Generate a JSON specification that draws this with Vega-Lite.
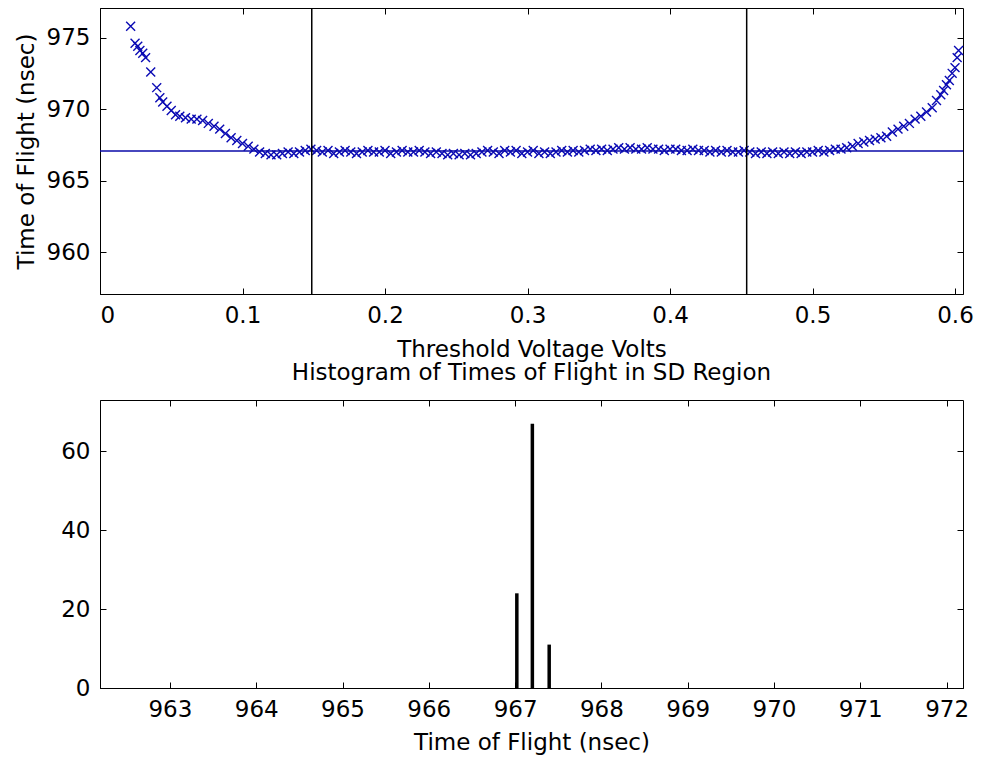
{
  "$schema": "https://vega.github.io/schema/vega-lite/v6.json",
  "padding": {"left": 14, "top": 6, "right": 10, "bottom": 5},
  "background": "white",
  "bounds": "flush",
  "spacing": 106,
  "config": {
    "view": {"stroke": "black", "strokeWidth": 1},
    "font": "DejaVu Sans",
    "axis": {
      "grid": false,
      "domainColor": "black",
      "tickColor": "black",
      "tickSize": -6,
      "labelPadding": 16,
      "labelColor": "black",
      "labelFont": "DejaVu Sans",
      "labelFontSize": 23,
      "titleFont": "DejaVu Sans",
      "titleFontSize": 23,
      "titleFontWeight": "normal",
      "titleColor": "black"
    },
    "title": {"font": "DejaVu Sans", "fontSize": 23, "fontWeight": "normal", "color": "black"}
  },
  "datasets": {
    "tof": [
      {"v": 0.0215, "t": 975.8}, {"v": 0.0246, "t": 974.6}, {"v": 0.0265, "t": 974.4}, {"v": 0.028, "t": 974.1},
      {"v": 0.030, "t": 973.9}, {"v": 0.032, "t": 973.6}, {"v": 0.0356, "t": 972.6}, {"v": 0.0398, "t": 971.5},
      {"v": 0.042, "t": 970.8}, {"v": 0.044, "t": 970.5}, {"v": 0.047, "t": 970.2}, {"v": 0.050, "t": 969.9},
      {"v": 0.053, "t": 969.6}, {"v": 0.056, "t": 969.5}, {"v": 0.060, "t": 969.4}, {"v": 0.064, "t": 969.3},
      {"v": 0.068, "t": 969.3}, {"v": 0.072, "t": 969.2}, {"v": 0.076, "t": 969.0}, {"v": 0.080, "t": 968.8},
      {"v": 0.084, "t": 968.6}, {"v": 0.088, "t": 968.3}, {"v": 0.092, "t": 968.0}, {"v": 0.096, "t": 967.8},
      {"v": 0.100, "t": 967.6}, {"v": 0.104, "t": 967.4}, {"v": 0.108, "t": 967.2}, {"v": 0.112, "t": 967.0},
      {"v": 0.116, "t": 966.9}, {"v": 0.120, "t": 966.8}, {"v": 0.124, "t": 966.8}, {"v": 0.128, "t": 966.9},
      {"v": 0.132, "t": 967.0}, {"v": 0.136, "t": 966.9}, {"v": 0.140, "t": 967.0}, {"v": 0.144, "t": 967.1},
      {"v": 0.148, "t": 967.2}, {"v": 0.152, "t": 967.1}, {"v": 0.156, "t": 967.0}, {"v": 0.160, "t": 967.1},
      {"v": 0.164, "t": 966.9}, {"v": 0.168, "t": 967.0}, {"v": 0.172, "t": 967.1}, {"v": 0.176, "t": 967.0},
      {"v": 0.180, "t": 966.9}, {"v": 0.184, "t": 967.0}, {"v": 0.188, "t": 967.1}, {"v": 0.192, "t": 967.0},
      {"v": 0.196, "t": 967.0}, {"v": 0.200, "t": 967.1}, {"v": 0.204, "t": 966.9}, {"v": 0.208, "t": 967.0},
      {"v": 0.212, "t": 967.1}, {"v": 0.216, "t": 967.0}, {"v": 0.220, "t": 967.0}, {"v": 0.224, "t": 967.1},
      {"v": 0.228, "t": 967.0}, {"v": 0.232, "t": 966.9}, {"v": 0.236, "t": 967.0}, {"v": 0.240, "t": 966.9},
      {"v": 0.244, "t": 966.8}, {"v": 0.248, "t": 966.9}, {"v": 0.252, "t": 966.8}, {"v": 0.256, "t": 966.9},
      {"v": 0.260, "t": 966.8}, {"v": 0.264, "t": 966.9}, {"v": 0.268, "t": 967.0}, {"v": 0.272, "t": 967.1},
      {"v": 0.276, "t": 967.0}, {"v": 0.280, "t": 966.9}, {"v": 0.284, "t": 967.1}, {"v": 0.288, "t": 967.0},
      {"v": 0.292, "t": 967.1}, {"v": 0.296, "t": 966.9}, {"v": 0.300, "t": 967.0}, {"v": 0.304, "t": 967.1},
      {"v": 0.308, "t": 966.9}, {"v": 0.312, "t": 967.0}, {"v": 0.316, "t": 966.9}, {"v": 0.320, "t": 967.0},
      {"v": 0.324, "t": 967.1}, {"v": 0.328, "t": 967.0}, {"v": 0.332, "t": 967.1}, {"v": 0.336, "t": 967.0},
      {"v": 0.340, "t": 967.1}, {"v": 0.344, "t": 967.2}, {"v": 0.348, "t": 967.1}, {"v": 0.352, "t": 967.2},
      {"v": 0.356, "t": 967.1}, {"v": 0.360, "t": 967.2}, {"v": 0.364, "t": 967.3}, {"v": 0.368, "t": 967.2},
      {"v": 0.372, "t": 967.3}, {"v": 0.376, "t": 967.2}, {"v": 0.380, "t": 967.2}, {"v": 0.384, "t": 967.3},
      {"v": 0.388, "t": 967.2}, {"v": 0.392, "t": 967.2}, {"v": 0.396, "t": 967.1}, {"v": 0.400, "t": 967.2},
      {"v": 0.404, "t": 967.2}, {"v": 0.408, "t": 967.1}, {"v": 0.412, "t": 967.1}, {"v": 0.416, "t": 967.2},
      {"v": 0.420, "t": 967.1}, {"v": 0.424, "t": 967.1}, {"v": 0.428, "t": 967.0}, {"v": 0.432, "t": 967.1},
      {"v": 0.436, "t": 967.0}, {"v": 0.440, "t": 967.1}, {"v": 0.444, "t": 967.0}, {"v": 0.448, "t": 967.0},
      {"v": 0.452, "t": 967.1}, {"v": 0.456, "t": 967.0}, {"v": 0.460, "t": 966.9}, {"v": 0.464, "t": 967.0},
      {"v": 0.468, "t": 966.9}, {"v": 0.472, "t": 967.0}, {"v": 0.476, "t": 966.9}, {"v": 0.480, "t": 967.0},
      {"v": 0.484, "t": 966.9}, {"v": 0.488, "t": 967.0}, {"v": 0.492, "t": 966.9}, {"v": 0.496, "t": 967.0},
      {"v": 0.500, "t": 967.0}, {"v": 0.504, "t": 967.1}, {"v": 0.508, "t": 967.0}, {"v": 0.512, "t": 967.1},
      {"v": 0.516, "t": 967.2}, {"v": 0.520, "t": 967.2}, {"v": 0.524, "t": 967.3}, {"v": 0.528, "t": 967.4},
      {"v": 0.532, "t": 967.6}, {"v": 0.536, "t": 967.7}, {"v": 0.540, "t": 967.8}, {"v": 0.544, "t": 967.9},
      {"v": 0.548, "t": 968.0}, {"v": 0.552, "t": 968.1}, {"v": 0.556, "t": 968.4}, {"v": 0.560, "t": 968.6},
      {"v": 0.564, "t": 968.8}, {"v": 0.568, "t": 969.0}, {"v": 0.572, "t": 969.3}, {"v": 0.576, "t": 969.5},
      {"v": 0.580, "t": 969.8}, {"v": 0.584, "t": 970.1}, {"v": 0.587, "t": 970.6}, {"v": 0.590, "t": 971.0},
      {"v": 0.592, "t": 971.3}, {"v": 0.594, "t": 971.7}, {"v": 0.596, "t": 972.0}, {"v": 0.598, "t": 972.5},
      {"v": 0.600, "t": 972.9}, {"v": 0.6015, "t": 973.6}, {"v": 0.6025, "t": 974.1}
    ],
    "mean": [{"t": 967.07}],
    "bounds": [{"v": 0.1486}, {"v": 0.4538}],
    "hist": [{"tof": 967.02, "n": 24}, {"tof": 967.2, "n": 67}, {"tof": 967.395, "n": 11}]
  },
  "vconcat": [
    {
      "width": 863,
      "height": 286,
      "resolve": {"axis": {"x": "independent", "y": "independent"}},
      "layer": [
        {
          "data": {"name": "tof"},
          "mark": {"type": "point", "shape": "M-1,-1L1,1M1,-1L-1,1", "filled": false, "size": 80, "strokeWidth": 1.4, "color": "#0a0ab4", "opacity": 1},
          "encoding": {
            "x": {"field": "v", "type": "quantitative", "scale": {"domain": [0, 0.6056], "nice": false, "zero": false},
                  "axis": {"values": [0, 0.1, 0.2, 0.3, 0.4, 0.5, 0.6], "format": ".1~f", "title": "Threshold Voltage Volts", "titlePadding": 11}},
            "y": {"field": "t", "type": "quantitative", "scale": {"domain": [957.07, 977.07], "nice": false, "zero": false},
                  "axis": {"values": [960, 965, 970, 975], "title": "Time of Flight (nsec)", "titlePadding": 8}}
          }
        },
        {
          "data": {"name": "mean"},
          "mark": {"type": "rule", "color": "#0a0aa8", "strokeWidth": 1.3},
          "encoding": {
            "y": {"field": "t", "type": "quantitative", "scale": {"domain": [957.07, 977.07], "nice": false, "zero": false},
                  "axis": {"orient": "right", "values": [960, 965, 970, 975], "labels": false, "title": null, "domain": false}}
          }
        },
        {
          "data": {"name": "bounds"},
          "mark": {"type": "rule", "color": "black", "strokeWidth": 1.5},
          "encoding": {
            "x": {"field": "v", "type": "quantitative", "scale": {"domain": [0, 0.6056], "nice": false, "zero": false},
                  "axis": {"orient": "top", "values": [0, 0.1, 0.2, 0.3, 0.4, 0.5, 0.6], "labels": false, "title": null, "domain": false}}
          }
        }
      ]
    },
    {
      "width": 863,
      "height": 288,
      "title": {"text": "Histogram of Times of Flight in SD Region", "offset": 15},
      "data": {"name": "hist"},
      "resolve": {"axis": {"x": "independent", "y": "independent"}},
      "layer": [
        {
          "mark": {"type": "rule", "color": "black", "strokeWidth": 3.5},
          "encoding": {
            "x": {"field": "tof", "type": "quantitative", "scale": {"domain": [962.19, 972.19], "nice": false, "zero": false},
                  "axis": {"values": [963, 964, 965, 966, 967, 968, 969, 970, 971, 972], "title": "Time of Flight (nsec)", "titlePadding": 10}},
            "y": {"field": "n", "type": "quantitative", "scale": {"domain": [0, 73], "nice": false},
                  "axis": {"values": [0, 20, 40, 60], "title": null}},
            "y2": {"datum": 0}
          }
        },
        {
          "mark": {"type": "point", "opacity": 0},
          "encoding": {
            "x": {"field": "tof", "type": "quantitative", "scale": {"domain": [962.19, 972.19], "nice": false, "zero": false},
                  "axis": {"orient": "top", "values": [963, 964, 965, 966, 967, 968, 969, 970, 971, 972], "labels": false, "title": null, "domain": false}},
            "y": {"field": "n", "type": "quantitative", "scale": {"domain": [0, 73], "nice": false},
                  "axis": {"orient": "right", "values": [0, 20, 40, 60], "labels": false, "title": null, "domain": false}}
          }
        }
      ]
    }
  ]
}
